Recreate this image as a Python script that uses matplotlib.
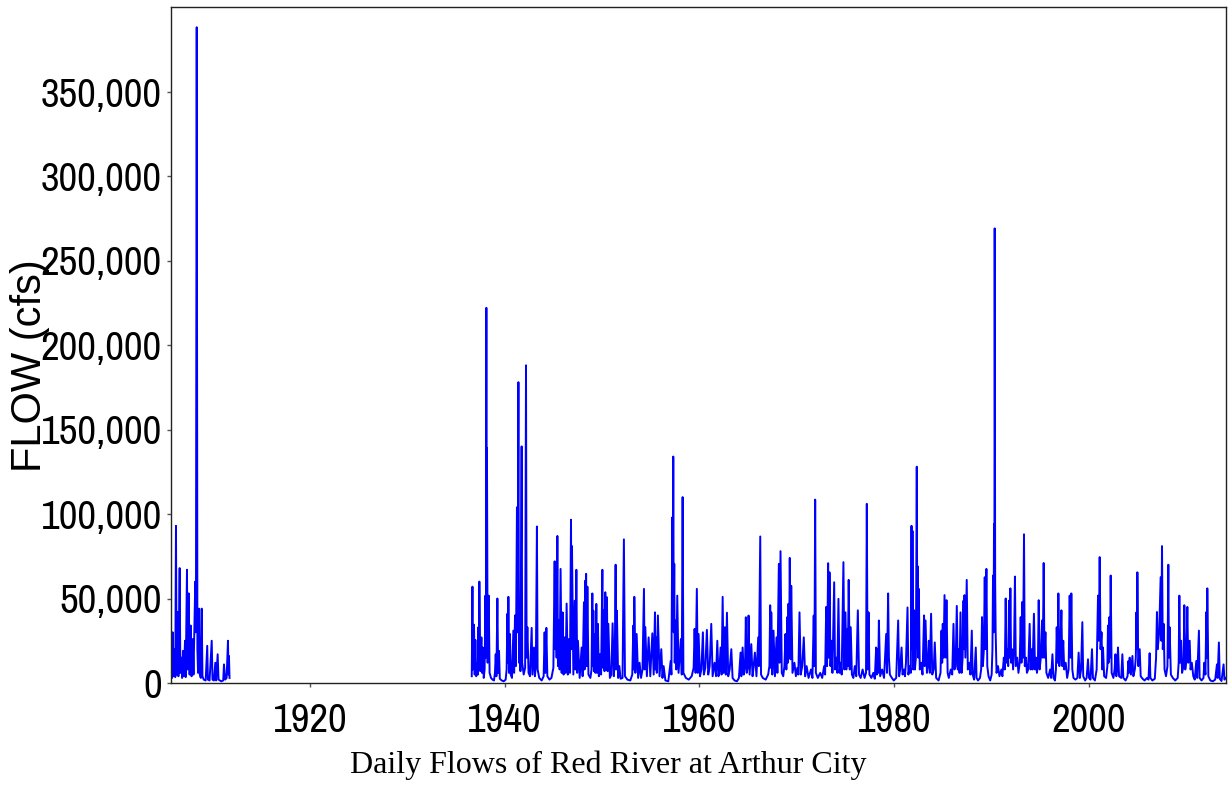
import numpy as np
import matplotlib
matplotlib.use("Agg")
import matplotlib.pyplot as plt
from matplotlib import font_manager as fm
from matplotlib.textpath import TextPath
from matplotlib.ticker import FuncFormatter

# daily flow record (decimal year, cfs): peaks and the low flows between them
flow_1905_1911 = [
    (1905.75, 12000), (1905.85, 3000), (1905.91, 30000), (1906.0, 4000), (1906.1, 20000),
    (1906.18, 3500), (1906.25, 93000), (1906.32, 5000), (1906.43, 42000), (1906.5, 4000),
    (1906.63, 68000), (1906.7, 6000), (1906.8, 15000), (1906.88, 3000), (1906.97, 19000),
    (1907.05, 4000), (1907.18, 25000), (1907.25, 3500), (1907.38, 67000), (1907.45, 8000),
    (1907.56, 53000), (1907.65, 5000), (1907.76, 34000), (1907.85, 4000), (1907.97, 26000),
    (1908.05, 5000), (1908.23, 60000), (1908.3, 30000), (1908.38, 388000), (1908.45, 20000),
    (1908.52, 6000), (1908.61, 44000), (1908.7, 5000), (1908.8, 3000), (1908.89, 44000),
    (1908.97, 4000), (1909.1, 2000), (1909.3, 1500), (1909.46, 22000), (1909.53, 2000),
    (1909.7, 1500), (1909.92, 25000), (1910.0, 2000), (1910.15, 1500), (1910.29, 12000),
    (1910.38, 1500), (1910.53, 17000), (1910.62, 2000), (1910.9, 1000), (1911.1, 1500),
    (1911.18, 11000), (1911.3, 2000), (1911.45, 3000), (1911.59, 25000), (1911.64, 5000),
    (1911.69, 16000), (1911.75, 3000),
]

flow_1936_1961 = [
    (1936.62, 4000), (1936.69, 57000), (1936.74, 8000), (1936.85, 34500), (1936.92, 5000),
    (1936.99, 25500), (1937.08, 4000), (1937.2, 12000), (1937.25, 5000), (1937.30, 33000),
    (1937.35, 9000), (1937.40, 60000), (1937.5, 7000), (1937.61, 27000), (1937.67, 6000),
    (1937.74, 21000), (1937.85, 3000), (1937.94, 8000), (1938.02, 51700), (1938.07, 15000),
    (1938.12, 222000), (1938.15, 40000), (1938.18, 139000), (1938.25, 12000), (1938.36, 51700),
    (1938.45, 6000), (1938.6, 3000), (1938.75, 2000), (1938.9, 1500), (1939.0, 6000),
    (1939.08, 17000), (1939.15, 4000), (1939.25, 50000), (1939.33, 6000), (1939.42, 19000),
    (1939.5, 2500), (1939.7, 1500), (1939.9, 1000), (1940.1, 2000), (1940.2, 8000),
    (1940.28, 41000), (1940.33, 12000), (1940.38, 51000), (1940.45, 6000), (1940.54, 29000),
    (1940.62, 5000), (1940.75, 3000), (1940.89, 31000), (1940.97, 6000), (1941.06, 40000),
    (1941.15, 10000), (1941.26, 104000), (1941.33, 30000), (1941.41, 178000), (1941.47, 12000),
    (1941.54, 17000), (1941.62, 7000), (1941.74, 140000), (1941.8, 12000), (1941.95, 5000),
    (1942.1, 9000), (1942.19, 188000), (1942.25, 15000), (1942.33, 33000), (1942.45, 6000),
    (1942.6, 4000), (1942.77, 32600), (1942.85, 5000), (1943.01, 21000), (1943.1, 4000),
    (1943.2, 10000), (1943.31, 92600), (1943.38, 8000), (1943.55, 3000), (1943.8, 1500),
    (1944.0, 4000), (1944.1, 30000), (1944.18, 6000), (1944.28, 32600), (1944.38, 4000),
    (1944.6, 2000), (1944.8, 3000), (1945.0, 9000), (1945.13, 72000), (1945.2, 20000),
    (1945.26, 62600), (1945.33, 15000), (1945.41, 87000), (1945.47, 10000), (1945.54, 37000),
    (1945.64, 8000), (1945.74, 67500), (1945.85, 6000), (1945.95, 41800), (1946.05, 5000),
    (1946.16, 27000), (1946.25, 6000), (1946.36, 47000), (1946.48, 5000), (1946.6, 26000),
    (1946.7, 6000), (1946.81, 96600), (1946.86, 20000), (1946.91, 81000), (1947.05, 5000),
    (1947.19, 48700), (1947.27, 8000), (1947.36, 67000), (1947.44, 6000), (1947.52, 25000),
    (1947.7, 3000), (1947.9, 21000), (1948.0, 4000), (1948.14, 47800), (1948.2, 8000),
    (1948.28, 60600), (1948.32, 20000), (1948.36, 64600), (1948.42, 10000), (1948.49, 57000),
    (1948.6, 5000), (1948.8, 3000), (1948.92, 8000), (1949.0, 53000), (1949.05, 10000),
    (1949.10, 42800), (1949.17, 7000), (1949.24, 29000), (1949.32, 6000), (1949.41, 46800),
    (1949.49, 6000), (1949.57, 35000), (1949.67, 4000), (1949.78, 17000), (1949.9, 5000),
    (1950.03, 67000), (1950.1, 9000), (1950.16, 43000), (1950.25, 7000), (1950.33, 53700),
    (1950.42, 8000), (1950.50, 50700), (1950.57, 7000), (1950.64, 35000), (1950.8, 3000),
    (1950.95, 5000), (1951.08, 35300), (1951.2, 4000), (1951.3, 12000), (1951.39, 70000),
    (1951.45, 8000), (1951.52, 42800), (1951.65, 3000), (1951.77, 10000), (1951.9, 2500),
    (1952.1, 3000), (1952.24, 85000), (1952.35, 4000), (1952.6, 2000), (1952.9, 1500),
    (1953.1, 5000), (1953.21, 34000), (1953.26, 8000), (1953.31, 51000), (1953.42, 6000),
    (1953.55, 29000), (1953.7, 3000), (1953.85, 12000), (1954.0, 3000), (1954.15, 8000),
    (1954.30, 55700), (1954.37, 8000), (1954.44, 33000), (1954.6, 4000), (1954.78, 27000),
    (1954.95, 4000), (1955.16, 29400), (1955.3, 5000), (1955.43, 41800), (1955.48, 8000),
    (1955.53, 27000), (1955.62, 6000), (1955.73, 40000), (1955.9, 4000), (1956.08, 20000),
    (1956.2, 3000), (1956.32, 10000), (1956.5, 1500), (1956.8, 1000), (1957.04, 13000),
    (1957.12, 5000), (1957.21, 98000), (1957.26, 40000), (1957.31, 134000), (1957.36, 30000),
    (1957.41, 70500), (1957.46, 12000), (1957.52, 37000), (1957.62, 8000), (1957.72, 51700),
    (1957.85, 6000), (1958.09, 26000), (1958.18, 5000), (1958.27, 110000), (1958.35, 6000),
    (1958.6, 3000), (1958.9, 2000), (1959.2, 4000), (1959.4, 9000), (1959.50, 32000),
    (1959.6, 6000), (1959.73, 55700), (1959.82, 6000), (1959.91, 29000), (1960.05, 4000),
    (1960.2, 8000), (1960.35, 30000), (1960.45, 5000), (1960.6, 9000), (1960.76, 31400),
    (1960.9, 5000), (1961.05, 10000), (1961.21, 35000), (1961.35, 4000), (1961.55, 12000),
    (1961.7, 4000), (1961.83, 25000), (1961.95, 4000),
]

flow_1962_1987 = [
    (1962.05, 8000), (1962.17, 21000), (1962.27, 5000), (1962.38, 51000), (1962.48, 6000),
    (1962.61, 33000), (1962.7, 5000), (1962.82, 41600), (1962.95, 4000), (1963.1, 8000),
    (1963.27, 20000), (1963.4, 3000), (1963.6, 1500), (1963.85, 1000), (1964.05, 3000),
    (1964.22, 18000), (1964.3, 4000), (1964.43, 21000), (1964.55, 5000), (1964.68, 10000),
    (1964.76, 38900), (1964.85, 6000), (1964.95, 9000), (1965.04, 39900), (1965.15, 5000),
    (1965.32, 23000), (1965.45, 4000), (1965.55, 9000), (1965.69, 18000), (1965.85, 4000),
    (1966.03, 27000), (1966.1, 10000), (1966.24, 86700), (1966.32, 5000), (1966.5, 3000),
    (1966.8, 2000), (1967.05, 5000), (1967.18, 10000), (1967.26, 46000), (1967.32, 9000),
    (1967.37, 41800), (1967.48, 5000), (1967.60, 31000), (1967.75, 4000), (1967.91, 27000),
    (1968.0, 6000), (1968.15, 70500), (1968.22, 12000), (1968.32, 78000), (1968.45, 6000),
    (1968.6, 4000), (1968.72, 10000), (1968.83, 29000), (1968.92, 8000), (1969.01, 39000),
    (1969.08, 12000), (1969.14, 46900), (1969.2, 15000), (1969.27, 74000), (1969.35, 14000),
    (1969.42, 57500), (1969.55, 6000), (1969.75, 12000), (1969.9, 4000), (1970.05, 9000),
    (1970.15, 5000), (1970.27, 41800), (1970.4, 5000), (1970.55, 10000), (1970.71, 27000),
    (1970.85, 4000), (1971.0, 10000), (1971.2, 3000), (1971.45, 8000), (1971.6, 3000),
    (1971.73, 39900), (1971.8, 10000), (1971.88, 108500), (1971.95, 6000), (1972.15, 3000),
    (1972.4, 6000), (1972.6, 3000), (1972.8, 10000), (1972.9, 5000), (1973.01, 45000),
    (1973.1, 10000), (1973.21, 70900), (1973.28, 15000), (1973.35, 65500), (1973.45, 10000),
    (1973.55, 25000), (1973.65, 6000), (1973.83, 59600), (1973.92, 8000), (1974.05, 15000),
    (1974.15, 6000), (1974.27, 49800), (1974.38, 6000), (1974.5, 12000), (1974.6, 5000),
    (1974.78, 71500), (1974.88, 8000), (1974.99, 41800), (1975.08, 8000), (1975.16, 32000),
    (1975.23, 10000), (1975.32, 61000), (1975.43, 8000), (1975.53, 33000), (1975.65, 5000),
    (1975.8, 3000), (1975.95, 10000), (1976.1, 4000), (1976.26, 43000), (1976.38, 5000),
    (1976.55, 3000), (1976.75, 8000), (1976.95, 3000), (1977.1, 6000), (1977.18, 106000),
    (1977.26, 8000), (1977.36, 41800), (1977.45, 5000), (1977.65, 3000), (1977.85, 6000),
    (1978.0, 2500), (1978.14, 21000), (1978.2, 5000), (1978.28, 20000), (1978.35, 6000),
    (1978.42, 37000), (1978.55, 4000), (1978.75, 8000), (1978.95, 3000), (1979.17, 29000),
    (1979.25, 6000), (1979.37, 53000), (1979.45, 15000), (1979.55, 5000), (1979.75, 3000),
    (1979.95, 1500), (1980.2, 3000), (1980.40, 37000), (1980.5, 4000), (1980.6, 8000),
    (1980.75, 21000), (1980.85, 5000), (1981.0, 8000), (1981.1, 4000), (1981.2, 12000),
    (1981.36, 44700), (1981.45, 5000), (1981.6, 10000), (1981.7, 6000), (1981.77, 93000),
    (1981.82, 20000), (1981.87, 90000), (1981.95, 8000), (1982.04, 43000), (1982.12, 8000),
    (1982.22, 15000), (1982.31, 128000), (1982.37, 20000), (1982.42, 69000), (1982.47, 15000),
    (1982.52, 55700), (1982.62, 8000), (1982.75, 12000), (1982.9, 5000), (1983.06, 40000),
    (1983.12, 10000), (1983.21, 37000), (1983.35, 6000), (1983.45, 10000), (1983.55, 25000),
    (1983.65, 6000), (1983.78, 41000), (1983.9, 5000), (1984.05, 8000), (1984.16, 24000),
    (1984.3, 3000), (1984.55, 1500), (1984.75, 6000), (1984.85, 31000), (1984.92, 12000),
    (1984.98, 35000), (1985.06, 15000), (1985.16, 52000), (1985.26, 15000), (1985.36, 49000),
    (1985.48, 6000), (1985.6, 3000), (1985.8, 8000), (1985.95, 5000), (1986.08, 35000),
    (1986.18, 8000), (1986.3, 10000), (1986.42, 45600), (1986.52, 8000), (1986.62, 20000),
    (1986.7, 6000), (1986.80, 41800), (1986.92, 6000), (1987.02, 15000), (1987.11, 48700),
    (1987.16, 20000), (1987.21, 52000), (1987.3, 15000), (1987.44, 61000), (1987.55, 8000),
    (1987.7, 12000), (1987.82, 5000), (1987.96, 31000),
]

flow_1988_2013 = [
    (1988.05, 5000), (1988.2, 2000), (1988.37, 21000), (1988.45, 3000), (1988.6, 1500),
    (1988.8, 3000), (1988.92, 8000), (1989.01, 39000), (1989.1, 10000), (1989.2, 20000),
    (1989.29, 62600), (1989.36, 20000), (1989.46, 67500), (1989.55, 10000), (1989.68, 4000),
    (1989.85, 1500), (1990.0, 5000), (1990.08, 20000), (1990.14, 63600), (1990.2, 30000),
    (1990.24, 94000), (1990.28, 60000), (1990.31, 269000), (1990.36, 60000), (1990.41, 30000),
    (1990.5, 6000), (1990.65, 10000), (1990.8, 4000), (1991.0, 8000), (1991.1, 4000),
    (1991.25, 15000), (1991.35, 8000), (1991.44, 50000), (1991.52, 12000), (1991.62, 20000),
    (1991.7, 10000), (1991.78, 48700), (1991.85, 15000), (1991.92, 56000), (1992.0, 12000),
    (1992.1, 20000), (1992.2, 8000), (1992.3, 20000), (1992.39, 63000), (1992.48, 10000),
    (1992.62, 15000), (1992.75, 6000), (1992.88, 12000), (1992.98, 39000), (1993.06, 12000),
    (1993.15, 48000), (1993.22, 15000), (1993.32, 88000), (1993.4, 10000), (1993.52, 15000),
    (1993.62, 6000), (1993.75, 8000), (1993.9, 35000), (1994.0, 8000), (1994.12, 20000),
    (1994.2, 8000), (1994.34, 41000), (1994.45, 8000), (1994.55, 15000), (1994.65, 6000),
    (1994.75, 12000), (1994.83, 49000), (1994.92, 8000), (1995.05, 15000), (1995.17, 37000),
    (1995.25, 15000), (1995.34, 71000), (1995.42, 15000), (1995.52, 30000), (1995.62, 6000),
    (1995.8, 3000), (1996.0, 8000), (1996.1, 3000), (1996.24, 17000), (1996.35, 3000),
    (1996.5, 1500), (1996.6, 8000), (1996.68, 33000), (1996.76, 12000), (1996.85, 53000),
    (1996.95, 10000), (1997.05, 20000), (1997.16, 43000), (1997.25, 10000), (1997.35, 25000),
    (1997.45, 8000), (1997.6, 12000), (1997.75, 3000), (1997.9, 8000), (1998.01, 51700),
    (1998.1, 15000), (1998.18, 53000), (1998.28, 8000), (1998.4, 3000), (1998.6, 2000),
    (1998.8, 3000), (1998.93, 18000), (1999.05, 3000), (1999.18, 8000), (1999.31, 36000),
    (1999.4, 4000), (1999.6, 1500), (1999.75, 3000), (1999.89, 14000), (2000.0, 3000),
    (2000.15, 2000), (2000.30, 20000), (2000.4, 3000), (2000.6, 1500), (2000.78, 8000),
    (2000.92, 51700), (2001.0, 25000), (2001.09, 74500), (2001.18, 20000), (2001.28, 30000),
    (2001.36, 8000), (2001.43, 21000), (2001.55, 4000), (2001.75, 3000), (2001.88, 10000),
    (2001.94, 34000), (2002.0, 12000), (2002.09, 39000), (2002.15, 15000), (2002.22, 63600),
    (2002.32, 6000), (2002.5, 3000), (2002.62, 8000), (2002.71, 17000), (2002.8, 4000),
    (2002.9, 10000), (2002.97, 21000), (2003.08, 4000), (2003.3, 3000), (2003.42, 17000),
    (2003.52, 3000), (2003.75, 1500), (2003.95, 4000), (2004.04, 13000), (2004.1, 6000),
    (2004.17, 15000), (2004.3, 5000), (2004.45, 16000), (2004.55, 4000), (2004.7, 8000),
    (2004.8, 15000), (2004.86, 41800), (2004.92, 20000), (2004.96, 65500), (2005.05, 10000),
    (2005.2, 20000), (2005.3, 4000), (2005.5, 2500), (2005.7, 1500), (2005.95, 3000),
    (2006.1, 2000), (2006.22, 17600), (2006.3, 3000), (2006.5, 1500), (2006.75, 2500),
    (2006.88, 15000), (2006.97, 42000), (2007.05, 20000), (2007.2, 30000), (2007.35, 62600),
    (2007.42, 25000), (2007.49, 81000), (2007.57, 20000), (2007.66, 35000), (2007.75, 8000),
    (2007.9, 4000), (2008.05, 10000), (2008.14, 70000), (2008.2, 15000), (2008.27, 33000),
    (2008.4, 5000), (2008.6, 3000), (2008.85, 1500), (2009.1, 3000), (2009.2, 12000),
    (2009.27, 51700), (2009.35, 12000), (2009.45, 25000), (2009.55, 6000), (2009.7, 10000),
    (2009.78, 46000), (2009.88, 8000), (2010.0, 15000), (2010.09, 45000), (2010.18, 12000),
    (2010.33, 25000), (2010.42, 8000), (2010.55, 12000), (2010.7, 4000), (2010.85, 2000),
    (2011.01, 13000), (2011.1, 3000), (2011.28, 31000), (2011.35, 3000), (2011.55, 1500),
    (2011.75, 3000), (2011.83, 12000), (2011.95, 5000), (2012.04, 42000), (2012.09, 15000),
    (2012.14, 56000), (2012.25, 4000), (2012.45, 1500), (2012.7, 1000), (2012.95, 2000),
    (2013.13, 11000), (2013.2, 3000), (2013.33, 24000), (2013.42, 2500), (2013.6, 1200),
    (2013.81, 11000), (2013.9, 2000), (2014.0, 3000),
]

y_ticks = [0, 50000, 100000, 150000, 200000, 250000, 300000, 350000]
x_ticks = [1920, 1940, 1960, 1980, 2000]


def pick_tick_font(width_px=118, digit_px=29):
    # reference tick labels are a tall, narrow sans: pick the installed regular face
    # whose "350,000" width / digit height ratio comes closest
    target = width_px / digit_px
    best = None
    for f in fm.fontManager.ttflist:
        nm = f.name.lower()
        if f.style != "normal" or "cjk" in nm or "mono" in nm or "serif" in nm:
            continue
        if f.weight not in (400, "normal", "regular"):
            continue
        try:
            prop = fm.FontProperties(fname=f.fname)
            w = TextPath((0, 0), "350,000", size=100, prop=prop).get_extents().width
            h = TextPath((0, 0), "0", size=100, prop=prop).get_extents().height
        except Exception:
            continue
        if h <= 0:
            continue
        score = abs(w / h - target)
        if best is None or score < best[0]:
            best = (score, f.fname, h)
    if best is None:
        return fm.FontProperties(family="Liberation Sans", size=24)
    size = digit_px * 0.72 / (best[2] / 100)
    return fm.FontProperties(fname=best[1], size=size)


tick_font = pick_tick_font()

fig = plt.figure(figsize=(12.28, 7.98), dpi=100)
ax = fig.add_axes([171 / 1228, 1 - 683 / 798, 1055 / 1228, 676 / 798])

early = np.array(flow_1905_1911)
late = np.array(flow_1936_1961 + flow_1962_1987 + flow_1988_2013)
ax.plot(early[:, 0], early[:, 1], color="#0000ff", lw=1.4)
ax.plot(late[:, 0], late[:, 1], color="#0000ff", lw=1.4)

ax.set_xlim(1905.74, 2014.06)
ax.set_ylim(0, 400000)
ax.set_xticks(x_ticks)
ax.set_yticks(y_ticks)
ax.yaxis.set_major_formatter(FuncFormatter(lambda v, p: f"{v:,.0f}"))

for s in ax.spines.values():
    s.set_color("#222222")
    s.set_linewidth(1.0)
ax.tick_params(axis="both", direction="out", length=3, width=1, color="#555555")
ax.tick_params(axis="y", pad=3.5)
ax.tick_params(axis="x", pad=11)
for lab in ax.get_xticklabels() + ax.get_yticklabels():
    lab.set_fontproperties(tick_font)

fig.text(30 / 1228, 1 - 366 / 798, "FLOW (cfs)", rotation=90, ha="center", va="center",
         fontsize=30, family=["Liberation Sans", "DejaVu Sans"])
fig.text(608 / 1228, 1 - 765 / 798, "Daily Flows of Red River at Arthur City",
         ha="center", va="center", fontsize=23, family=["Liberation Serif", "DejaVu Serif"])

fig.savefig("out.png", dpi=100)
